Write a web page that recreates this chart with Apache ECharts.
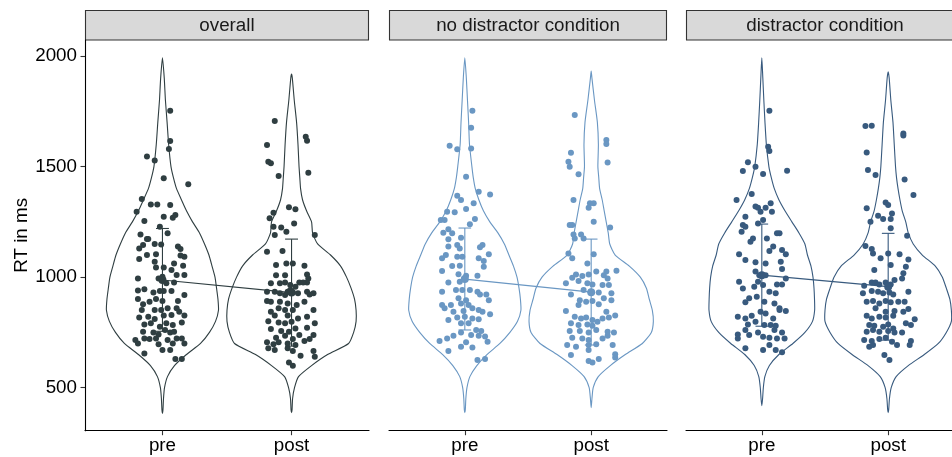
<!DOCTYPE html>
<html>
<head>
<meta charset="utf-8">
<script src="https://cdn.jsdelivr.net/npm/echarts@6/dist/echarts.min.js"></script>
<style>
  html, body { margin: 0; padding: 0; background: #fff; }
  #main { width: 952px; height: 457px; }
</style>
</head>
<body>
<div id="main"></div>
<script>
// facet names and x categories
var panels = ['overall', 'no distractor condition', 'distractor condition'];
var xCategories = ['pre', 'post'];
var yTicks = [500, 1000, 1500, 2000];
var panelColors = ['#2f3e41', '#6a97c3', '#385a7e'];

// violin outlines: half width (x units) at each RT level
var levels = [400, 450, 500, 550, 600, 650, 700, 750, 800, 850, 900, 950, 1000, 1050, 1100, 1150, 1200, 1250, 1300, 1350, 1400, 1450, 1500, 1600, 1700, 1800, 1900];
var overallPreWidth  = [0.004, 0.008, 0.016, 0.039, 0.093, 0.186, 0.295, 0.364, 0.411, 0.434, 0.430, 0.419, 0.407, 0.384, 0.360, 0.326, 0.287, 0.233, 0.186, 0.147, 0.109, 0.085, 0.066, 0.048, 0.036, 0.023, 0.014];
var overallPostWidth = [0.004, 0.008, 0.023, 0.054, 0.155, 0.279, 0.442, 0.481, 0.500, 0.500, 0.488, 0.461, 0.426, 0.380, 0.302, 0.202, 0.163, 0.155, 0.116, 0.085, 0.070, 0.064, 0.058, 0.050, 0.039, 0.021, 0.006];
var noDistPreWidth   = [0.004, 0.008, 0.017, 0.040, 0.095, 0.175, 0.278, 0.357, 0.417, 0.444, 0.440, 0.429, 0.413, 0.385, 0.349, 0.313, 0.262, 0.198, 0.147, 0.111, 0.083, 0.067, 0.056, 0.037, 0.030, 0.021, 0.012];
var noDistPostWidth  = [0.000, 0.006, 0.016, 0.056, 0.151, 0.270, 0.405, 0.476, 0.492, 0.484, 0.460, 0.437, 0.389, 0.302, 0.190, 0.147, 0.135, 0.119, 0.103, 0.087, 0.067, 0.060, 0.053, 0.057, 0.049, 0.026, 0.006];
var distPreWidth     = [0.000, 0.006, 0.012, 0.024, 0.060, 0.135, 0.246, 0.341, 0.401, 0.418, 0.417, 0.413, 0.405, 0.389, 0.361, 0.341, 0.294, 0.238, 0.183, 0.135, 0.099, 0.075, 0.056, 0.036, 0.025, 0.016, 0.008];
var distPostWidth    = [0.004, 0.010, 0.024, 0.063, 0.159, 0.286, 0.397, 0.460, 0.500, 0.500, 0.488, 0.460, 0.429, 0.373, 0.270, 0.198, 0.159, 0.139, 0.111, 0.093, 0.078, 0.066, 0.058, 0.048, 0.038, 0.021, 0.008];
// order: overall pre/post, no distractor pre/post, distractor pre/post
var violinBottom = [384, 387, 387, 410, 418, 387];
var violinTop    = [1992, 1918, 1992, 1932, 1992, 1929];

// mean and +-1 SD
var meanRT = [987, 930, 991, 932, 1009, 957];
var sdLow  = [755, 688, 761, 693, 778, 715];
var sdHigh = [1220, 1172, 1222, 1172, 1240, 1198];

// jittered participants: [x jitter, RT]
var overallPre = [[0.06,1753],[0.06,1616],[0.05,1579],[-0.12,1545],[-0.06,1527],[0.01,1447],[0.20,1420],[-0.16,1353],[-0.09,1329],[-0.04,1329],[0.06,1326],[-0.20,1296],[0.01,1273],[0.08,1269],[0.10,1281],[-0.14,1254],[-0.02,1228],[-0.17,1193],[-0.12,1172],[-0.11,1172],[0.04,1198],[-0.15,1145],[-0.06,1150],[-0.01,1148],[0.12,1138],[0.14,1127],[-0.18,1130],[-0.12,1100],[-0.05,1103],[0.17,1092],[0.14,1098],[-0.18,1082],[-0.06,1070],[0.09,1062],[0.16,1052],[-0.05,1043],[0.01,1043],[0.07,1032],[0.11,1010],[0.17,1010],[-0.19,994],[-0.03,994],[0.00,1002],[0.03,972],[0.09,976],[-0.19,939],[-0.14,945],[-0.07,931],[-0.02,937],[0.01,937],[0.07,937],[0.17,919],[-0.19,901],[-0.15,877],[-0.10,889],[-0.05,901],[0.00,892],[0.12,892],[-0.16,851],[-0.06,851],[-0.01,851],[0.04,859],[0.11,859],[0.13,844],[0.17,826],[-0.18,817],[-0.11,821],[-0.06,811],[0.01,826],[0.07,829],[-0.14,786],[-0.09,791],[-0.02,776],[0.03,791],[0.08,783],[0.15,795],[-0.15,753],[-0.07,750],[0.02,761],[0.06,750],[0.09,753],[-0.21,716],[-0.14,723],[-0.10,720],[-0.05,723],[-0.03,741],[0.04,716],[0.11,723],[0.15,723],[-0.19,700],[-0.03,696],[0.08,700],[0.17,700],[-0.14,655],[0.00,670],[0.06,670],[0.10,630],[0.15,630]];
var overallPost = [[-0.13,1706],[0.11,1635],[0.12,1617],[-0.19,1597],[-0.18,1522],[-0.16,1515],[-0.10,1457],[0.13,1472],[-0.14,1291],[-0.17,1266],[-0.02,1316],[0.03,1307],[0.02,1243],[-0.14,1228],[-0.08,1224],[-0.04,1205],[-0.13,1190],[0.18,1190],[-0.19,1115],[-0.07,1118],[-0.12,1055],[-0.04,1062],[0.01,1062],[0.10,1052],[-0.12,1009],[-0.05,1009],[0.12,1012],[0.13,994],[0.12,976],[0.06,976],[-0.16,972],[-0.09,972],[-0.05,976],[-0.01,964],[0.03,957],[0.09,976],[-0.19,934],[-0.13,934],[-0.09,927],[-0.03,934],[0.01,931],[0.05,927],[0.12,934],[0.14,922],[0.17,927],[-0.05,919],[-0.01,942],[-0.19,892],[-0.16,889],[-0.09,889],[-0.03,881],[0.04,874],[0.10,889],[-0.10,859],[-0.05,851],[0.01,851],[0.17,851],[-0.16,844],[-0.13,826],[-0.03,826],[0.05,813],[0.12,821],[-0.18,801],[-0.10,795],[-0.05,791],[0.00,798],[0.18,791],[-0.16,765],[-0.08,756],[-0.02,753],[0.03,768],[0.12,771],[-0.12,726],[-0.05,735],[0.01,720],[0.06,738],[0.17,738],[-0.19,705],[-0.14,696],[-0.10,705],[-0.03,700],[0.03,693],[0.10,711],[0.14,720],[-0.18,678],[-0.13,670],[-0.03,678],[0.01,666],[0.07,645],[0.17,666],[0.18,640],[-0.02,614],[0.01,599]];
var noDistPre = [[0.06,1753],[0.05,1676],[-0.12,1594],[-0.06,1578],[0.05,1582],[0.01,1454],[0.11,1386],[0.20,1374],[-0.06,1368],[-0.03,1349],[0.07,1334],[0.01,1308],[-0.08,1293],[-0.14,1296],[-0.19,1258],[-0.16,1258],[0.08,1263],[0.04,1239],[-0.13,1216],[-0.17,1201],[-0.10,1198],[-0.03,1178],[-0.13,1171],[-0.13,1138],[-0.06,1145],[-0.04,1130],[0.14,1145],[0.12,1135],[0.19,1103],[-0.15,1100],[-0.18,1085],[-0.06,1092],[-0.02,1092],[0.11,1085],[0.15,1073],[0.15,1047],[-0.04,1052],[-0.10,1050],[-0.18,1028],[-0.05,1013],[0.01,1006],[0.10,1006],[-0.13,976],[-0.04,979],[-0.07,942],[-0.02,942],[0.04,942],[0.10,934],[0.12,922],[-0.18,934],[0.17,922],[0.19,896],[-0.05,904],[0.01,896],[-0.03,881],[0.03,874],[-0.18,874],[-0.16,859],[-0.11,874],[-0.09,844],[-0.01,847],[0.06,859],[0.11,851],[0.14,844],[0.20,832],[-0.13,806],[-0.06,817],[0.00,821],[0.06,813],[0.11,810],[-0.03,791],[0.03,791],[0.09,761],[0.13,756],[-0.03,750],[-0.09,735],[-0.14,723],[-0.20,711],[0.01,705],[0.05,738],[0.11,735],[0.16,731],[0.18,708],[-0.03,685],[0.06,682],[-0.13,666],[0.10,625],[0.16,630]];
var noDistPost = [[-0.13,1733],[0.12,1620],[0.12,1602],[-0.16,1563],[-0.18,1522],[-0.17,1499],[0.13,1518],[-0.10,1465],[-0.14,1349],[-0.01,1334],[0.02,1334],[-0.02,1314],[0.02,1251],[-0.15,1236],[-0.17,1236],[0.15,1224],[-0.14,1193],[-0.13,1175],[-0.08,1193],[-0.06,1175],[-0.18,1107],[-0.15,1085],[0.02,1104],[-0.03,1062],[0.20,1029],[0.12,1025],[-0.12,1012],[-0.15,997],[-0.07,1005],[-0.02,1012],[0.04,1025],[0.10,1009],[0.13,994],[-0.20,972],[-0.10,982],[-0.03,972],[0.01,967],[0.09,964],[0.14,964],[0.16,927],[-0.16,922],[-0.06,942],[0.00,934],[0.06,931],[-0.09,896],[-0.04,889],[0.01,892],[0.10,904],[0.16,896],[-0.10,874],[0.06,877],[-0.20,847],[-0.13,821],[-0.08,813],[-0.04,817],[0.01,806],[0.09,813],[0.12,844],[0.19,826],[0.14,817],[-0.16,791],[-0.10,783],[-0.03,786],[0.01,780],[0.05,798],[-0.09,756],[-0.02,750],[0.04,761],[0.13,753],[0.18,750],[-0.17,756],[-0.15,726],[-0.07,723],[-0.02,716],[0.09,723],[0.13,735],[-0.19,693],[-0.12,685],[-0.02,693],[0.04,696],[0.17,693],[-0.16,648],[-0.02,670],[0.06,630],[0.19,651],[0.19,636],[-0.02,621],[0.01,614]];
var distPre = [[0.06,1753],[0.05,1590],[0.06,1570],[-0.11,1519],[-0.05,1499],[-0.15,1480],[0.01,1466],[0.20,1481],[-0.08,1376],[-0.20,1349],[-0.05,1319],[-0.03,1314],[0.03,1314],[0.07,1334],[0.08,1296],[-0.01,1296],[-0.13,1273],[0.01,1258],[-0.03,1243],[-0.15,1236],[-0.16,1205],[-0.13,1228],[-0.07,1175],[-0.09,1160],[0.12,1198],[0.14,1198],[0.04,1175],[0.09,1138],[0.16,1123],[0.19,1103],[-0.18,1103],[-0.13,1077],[0.06,1118],[-0.05,1067],[0.03,1062],[0.15,1070],[0.16,1037],[-0.05,1025],[-0.02,1009],[0.03,1009],[-0.18,979],[-0.03,979],[0.12,967],[0.19,994],[0.16,967],[-0.15,949],[-0.06,957],[0.01,964],[0.06,934],[0.11,927],[-0.13,886],[-0.10,904],[-0.04,911],[0.02,889],[0.10,881],[0.14,859],[0.19,847],[-0.19,821],[-0.13,813],[-0.08,825],[-0.01,844],[0.03,836],[0.09,813],[0.14,851],[-0.11,786],[-0.05,798],[0.02,783],[0.07,783],[0.11,780],[-0.13,761],[-0.03,750],[0.10,761],[0.16,750],[-0.19,741],[-0.19,723],[-0.10,738],[0.01,730],[0.06,726],[0.12,723],[0.18,723],[-0.13,678],[0.01,670],[0.06,693],[0.11,670],[0.16,660]];
var distPost = [[-0.18,1683],[-0.13,1685],[0.12,1650],[0.12,1640],[-0.17,1564],[-0.16,1484],[-0.10,1462],[0.13,1442],[0.20,1371],[-0.17,1311],[-0.02,1338],[0.00,1326],[0.03,1288],[0.02,1263],[-0.08,1278],[-0.04,1263],[-0.14,1251],[0.02,1221],[-0.18,1141],[-0.13,1127],[-0.12,1107],[-0.06,1085],[0.00,1107],[0.09,1103],[0.15,1187],[0.16,1080],[-0.11,1032],[0.02,1055],[0.14,1047],[0.12,1017],[0.11,994],[-0.13,976],[-0.10,976],[-0.07,967],[-0.02,976],[0.02,967],[0.05,987],[-0.19,961],[-0.20,927],[-0.13,937],[-0.08,934],[-0.04,927],[0.01,931],[0.04,922],[0.16,934],[-0.17,889],[-0.12,892],[-0.07,881],[-0.02,892],[0.02,886],[0.08,889],[0.13,889],[-0.10,859],[-0.02,844],[0.05,847],[0.12,844],[0.16,856],[-0.17,825],[-0.13,813],[-0.07,821],[-0.02,817],[0.04,825],[0.21,810],[-0.15,783],[-0.11,780],[-0.04,776],[0.00,786],[0.04,768],[0.14,791],[0.18,783],[-0.17,753],[-0.12,761],[-0.07,753],[0.00,756],[0.05,750],[0.11,750],[-0.19,716],[-0.13,711],[-0.07,720],[-0.02,726],[0.03,708],[0.07,693],[0.17,693],[0.18,711],[-0.15,685],[-0.12,693],[-0.03,648],[0.01,625]];

var violinWidths = [overallPreWidth, overallPostWidth, noDistPreWidth, noDistPostWidth, distPreWidth, distPostWidth];
var groupPoints = [overallPre, overallPost, noDistPre, noDistPost, distPre, distPost];

var chart = echarts.init(document.getElementById('main'));
var FONT = 'Liberation Sans, Arial, sans-serif';
var FS = 18.8;
var gridLeft = [85, 389, 686];
var gridWidth = [284, 278, 278];
var yMin = 305.5, yMax = 2072.4;

function violinPoints(api, k, center) {
   var w = violinWidths[k];
   var right = [api.coord([center, violinBottom[k]])];
   var left = [];
   for (var i = 0; i < levels.length; i++) {
      if (levels[i] <= violinBottom[k] || levels[i] >= violinTop[k]) continue;
      right.push(api.coord([center + w[i], levels[i]]));
      left.unshift(api.coord([center - w[i], levels[i]]));
   }
   right.push(api.coord([center, violinTop[k]]));
   return right.concat(left);
}

var grids = [], xAxes = [], yAxes = [], series = [], graphics = [];
for (var p = 0; p < 3; p++) {
   grids.push({ left: gridLeft[p], top: 40, width: gridWidth[p], height: 390.7, containLabel: false, outerBoundsMode: 'none' });
   xAxes.push({
      type: 'value', gridIndex: p, min: 0.4, max: 2.6,
      axisLine: { show: true, lineStyle: { color: '#000', width: 1.1 } },
      axisTick: { show: true, customValues: [1, 2], length: 4.5, lineStyle: { color: '#333', width: 1.1 } },
      axisLabel: { show: true, customValues: [1, 2], margin: 6, fontSize: FS, color: '#000', fontFamily: FONT,
         formatter: function (v) { return xCategories[Math.round(v) - 1]; } },
      splitLine: { show: false }
   });
   yAxes.push({
      type: 'value', gridIndex: p, min: yMin, max: yMax,
      name: p === 0 ? 'RT in ms' : '', nameLocation: 'middle', nameGap: 52,
      nameTextStyle: { fontSize: FS, color: '#000', fontFamily: FONT },
      axisLine: { show: p === 0, lineStyle: { color: '#000', width: 1.1 } },
      axisTick: { show: p === 0, customValues: yTicks, length: 4.5, lineStyle: { color: '#333', width: 1.1 } },
      axisLabel: { show: p === 0, customValues: yTicks, margin: 8, fontSize: FS, color: '#000', fontFamily: FONT,
         formatter: function (v) { return String(Math.round(v)); } },
      splitLine: { show: false }
   });

   (function (p) {
      var color = panelColors[p];
      // violins
      series.push({
         type: 'custom', xAxisIndex: p, yAxisIndex: p, z: 1, silent: true,
         data: [[1, meanRT[2 * p]], [2, meanRT[2 * p + 1]]],
         renderItem: function (params, api) {
            var k = 2 * p + params.dataIndex;
            return {
               type: 'polygon',
               shape: { points: violinPoints(api, k, params.dataIndex + 1), smooth: 0.2 },
               style: { fill: 'none', stroke: color, lineWidth: 1.1 }
            };
         }
      });
      // line between means
      series.push({
         type: 'line', xAxisIndex: p, yAxisIndex: p, z: 2, silent: true,
         data: [[1, meanRT[2 * p]], [2, meanRT[2 * p + 1]]],
         symbol: 'none', lineStyle: { color: color, width: 1.1 }
      });
      // participants
      var pts = [];
      for (var g = 0; g < 2; g++) {
         groupPoints[2 * p + g].forEach(function (d) { pts.push([g + 1 + d[0], d[1]]); });
      }
      series.push({
         type: 'scatter', xAxisIndex: p, yAxisIndex: p, z: 3, silent: true,
         data: pts, symbolSize: 6, itemStyle: { color: color, opacity: 1 }
      });
      // mean +- SD
      series.push({
         type: 'custom', xAxisIndex: p, yAxisIndex: p, z: 4, silent: true,
         data: [[1, meanRT[2 * p]], [2, meanRT[2 * p + 1]]],
         renderItem: function (params, api) {
            var k = 2 * p + params.dataIndex;
            var x = params.dataIndex + 1;
            var top = api.coord([x, sdHigh[k]]), bot = api.coord([x, sdLow[k]]);
            var capL = api.coord([x - 0.05, 0])[0], capR = api.coord([x + 0.05, 0])[0];
            var m = api.coord([x, meanRT[k]]);
            var ls = { stroke: color, lineWidth: 1.1 };
            return {
               type: 'group',
               children: [
                  { type: 'line', shape: { x1: top[0], y1: top[1], x2: bot[0], y2: bot[1] }, style: ls },
                  { type: 'line', shape: { x1: capL, y1: top[1], x2: capR, y2: top[1] }, style: ls },
                  { type: 'line', shape: { x1: capL, y1: bot[1], x2: capR, y2: bot[1] }, style: ls },
                  { type: 'circle', shape: { cx: m[0], cy: m[1], r: 4 }, style: { fill: color } }
               ]
            };
         }
      });
   })(p);

   // facet strip
   graphics.push({
      type: 'rect', shape: { x: gridLeft[p] + 0.5, y: 10.5, width: gridWidth[p] - 1, height: 29.5 },
      style: { fill: '#d9d9d9', stroke: '#333', lineWidth: 1.1 }
   });
   graphics.push({
      type: 'text', x: gridLeft[p] + gridWidth[p] / 2, y: 25.5,
      style: { text: panels[p], fill: '#1a1a1a', fontSize: FS, fontFamily: FONT, align: 'center', verticalAlign: 'middle' }
   });
}

chart.setOption({
   animation: false,
   backgroundColor: '#fff',
   grid: grids,
   xAxis: xAxes,
   yAxis: yAxes,
   series: series,
   graphic: graphics
});
</script>
</body>
</html>
